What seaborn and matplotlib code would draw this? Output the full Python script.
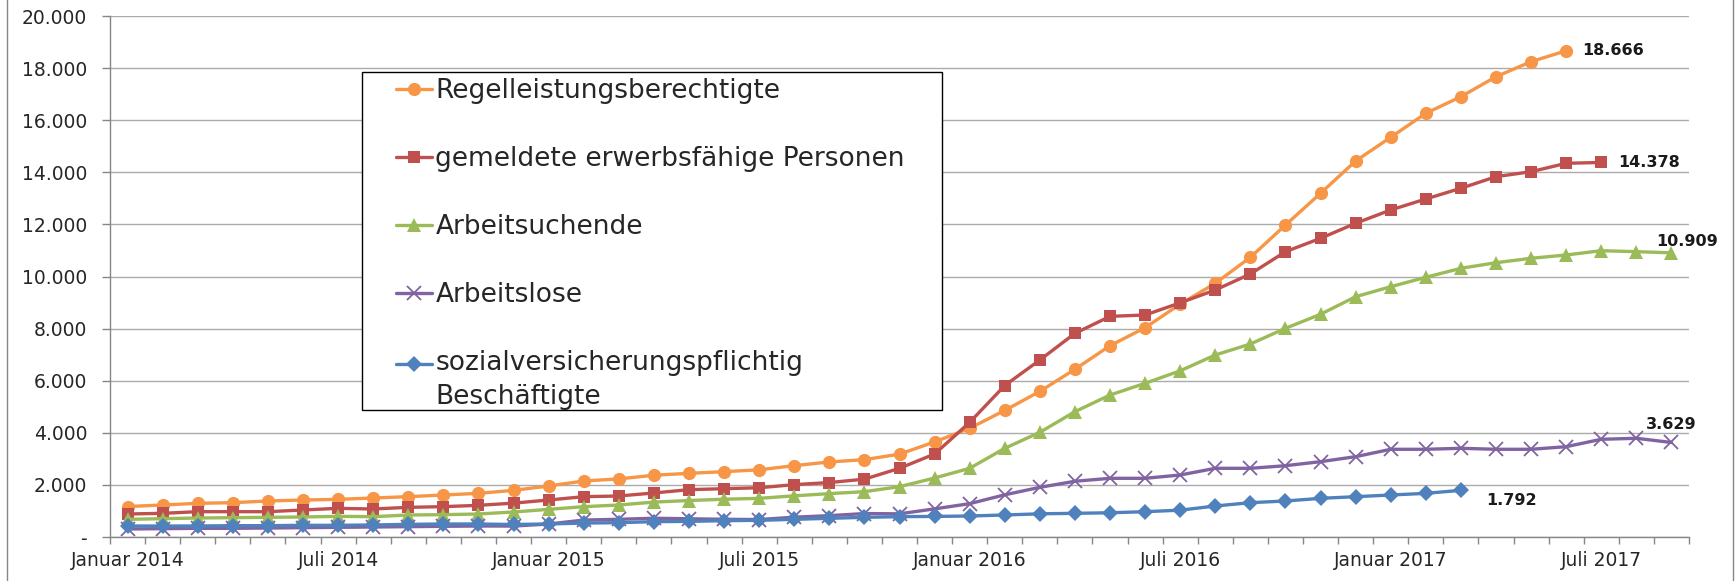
"""Entwicklung SGB-II-Kennzahlen 2014-2017 (Linienchart)."""

import matplotlib
matplotlib.use('Agg')
import matplotlib.pyplot as plt
import matplotlib.ticker as mticker
from matplotlib.patches import Rectangle
from matplotlib.legend_handler import HandlerLine2D
import seaborn as sns
import numpy as np

# Daten (monatlich, Januar 2014 = Index 0)
MONATE = ['Januar', 'Februar', 'März', 'April', 'Mai', 'Juni', 'Juli',
          'August', 'September', 'Oktober', 'November', 'Dezember']
JAHRE = [2014, 2015, 2016, 2017]
N_MONATE = 45

regelleistung = [1170, 1228, 1293, 1318, 1382, 1420, 1446, 1497, 1548, 1612, 1676, 1790,
                 1958, 2150, 2230, 2370, 2444, 2508, 2580, 2739, 2880, 2970, 3180, 3650,
                 4173, 4860, 5590, 6438, 7344, 8035, 8940, 9739, 10737, 11977, 13195, 14435,
                 15344, 16266, 16903, 17671, 18247, 18666]
gemeldete = [883, 909, 972, 972, 972, 1037, 1101, 1075, 1139, 1165, 1216, 1300,
             1420, 1548, 1574, 1690, 1817, 1855, 1890, 2010, 2090, 2220, 2637, 3186,
             4400, 5815, 6795, 7818, 8470, 8522, 8990, 9482, 10097, 10953, 11466, 12043,
             12554, 12976, 13387, 13832, 14024, 14346, 14378]
arbeitsuchende = [678, 703, 729, 742, 755, 768, 793, 780, 845, 857, 883, 960,
                  1062, 1164, 1229, 1340, 1400, 1450, 1484, 1580, 1665, 1740, 1932, 2265,
                  2637, 3405, 4020, 4811, 5451, 5900, 6380, 6987, 7409, 8011, 8550, 9225,
                  9609, 9970, 10315, 10530, 10699, 10826, 10991, 10953, 10909]
arbeitslose = [307, 320, 333, 333, 345, 358, 371, 384, 397, 410, 422, 420,
               499, 650, 680, 720, 700, 680, 670, 760, 820, 900, 890, 1080,
               1280, 1620, 1907, 2140, 2253, 2253, 2380, 2637, 2637, 2737, 2892, 3084,
               3367, 3367, 3405, 3367, 3367, 3467, 3751, 3789, 3629]
beschaeftigte = [422, 422, 422, 435, 435, 448, 448, 461, 486, 499, 499, 480,
                 500, 535, 550, 588, 600, 627, 640, 678, 717, 755, 780, 790,
                 806, 845, 890, 909, 930, 972, 1030, 1190, 1318, 1382, 1484, 1548,
                 1612, 1676, 1792]

namen = ['Regelleistungsberechtigte', 'gemeldete erwerbsfähige Personen',
         'Arbeitsuchende', 'Arbeitslose', 'sozialversicherungspflichtig\nBeschäftigte']
werte = [regelleistung, gemeldete, arbeitsuchende, arbeitslose, beschaeftigte]
farben = ['#F79646', '#C0504D', '#9BBB59', '#8064A2', '#4F81BD']
marker = ['o', 's', '^', 'x', 'D']
msize = [9.5, 8.5, 9.5, 9.5, 8]

kategorien = [f'{m} {j}' for j in JAHRE for m in MONATE][:N_MONATE]

# Style
sns.set_style('white')
plt.rcParams['font.family'] = ['DejaVu Sans']
plt.rcParams['xtick.labelsize'] = 13.5
plt.rcParams['ytick.labelsize'] = 13.5


class HandlerOben(HandlerLine2D):
    """Legendensymbol auf Höhe der ersten Textzeile."""

    def __init__(self, shift, **kw):
        super().__init__(**kw)
        self.shift = shift

    def create_artists(self, legend, orig_handle, xdescent, ydescent, width, height,
                       fontsize, trans):
        arts = super().create_artists(legend, orig_handle, xdescent, ydescent, width,
                                      height, fontsize, trans)
        for a in arts:
            a.set_ydata(np.asarray(a.get_ydata(), dtype=float) + self.shift * fontsize)
        return arts


W, H = 1735, 581
fig = plt.figure(figsize=(W / 100, H / 100), dpi=100)
ax = fig.add_axes([110 / W, 1 - 537 / H, (1689 - 110) / W, (537 - 16) / H])

for name, vals, c, m, s in zip(namen, werte, farben, marker, msize):
    sns.lineplot(x=np.arange(len(vals)), y=vals, ax=ax, color=c, marker=m,
                 markersize=s, linewidth=2.4, label=name,
                 markeredgecolor=c, markeredgewidth=1.3 if m == 'x' else 0)

# Datenbeschriftungen am letzten Punkt
def fmt(v):
    return f'{int(v):,}'.replace(',', '.')

offsets = [((11.5, 0), 'left'), ((12, 0), 'left'), ((11, 8), 'center'),
           ((0, 13), 'center'), ((18, -7), 'left')]
for vals, (off, ha) in zip(werte, offsets):
    i = len(vals) - 1
    ax.annotate(fmt(vals[i]), (i, vals[i]), xytext=off, textcoords='offset points',
                ha=ha, va='center', fontsize=11.5, fontweight='bold', color='#1a1a1a')

# Achsen
ax.set_xlim(-0.5, N_MONATE - 0.5)
ax.set_ylim(0, 20000)
ax.set_xlabel('')
ax.set_ylabel('')
ax.yaxis.set_major_locator(mticker.MultipleLocator(2000))
ax.yaxis.set_major_formatter(mticker.FuncFormatter(lambda v, p: '-' if v == 0 else fmt(v)))
ax.xaxis.set_major_locator(mticker.FixedLocator(np.arange(-0.5, N_MONATE, 1)))
ax.xaxis.set_major_formatter(mticker.NullFormatter())
ax.xaxis.set_minor_locator(mticker.FixedLocator(np.arange(0, N_MONATE, 6)))
ax.xaxis.set_minor_formatter(mticker.FixedFormatter(kategorien[::6]))
ax.tick_params(axis='x', which='major', direction='out', length=5, width=1,
               color='#868686', bottom=True)
ax.tick_params(axis='x', which='minor', length=0, pad=10, labelsize=13.5, bottom=True)
ax.tick_params(axis='y', direction='out', length=5.5, width=1, color='#868686',
               pad=11, labelsize=13.5, left=True)
ax.grid(axis='y', color='#ABABAB', linewidth=1)
ax.grid(axis='x', visible=False)
for side in ['top', 'right']:
    ax.spines[side].set_visible(False)
for side in ['left', 'bottom']:
    ax.spines[side].set_color('#868686')
    ax.spines[side].set_linewidth(1)

# Legende mit eigenem Rahmen
handles, labels = ax.get_legend_handles_labels()
if ax.get_legend() is not None:
    ax.get_legend().remove()
fig.add_artist(Rectangle((362 / W, 1 - 410 / H), 580 / W, 338 / H, transform=fig.transFigure,
                         facecolor='white', edgecolor='black', linewidth=1, zorder=4))
leg = fig.legend(handles, labels, loc='upper left', bbox_to_anchor=(396 / W, 1 - 78 / H),
                 frameon=False, fontsize=19, handlelength=1.37, handletextpad=0.12,
                 labelspacing=1.59, borderpad=0, borderaxespad=0,
                 handler_map={handles[-1]: HandlerOben(0.62)})
leg.set_zorder(5)
leg.get_texts()[-1].set_linespacing(1.4)

# Rahmen des Diagrammbereichs
fig.add_artist(Rectangle((7 / W, -0.1), (1733 - 7) / W, 1.2, transform=fig.transFigure,
                         fill=False, edgecolor='#868686', linewidth=1))

fig.savefig('out.png', dpi=100, facecolor='white')
